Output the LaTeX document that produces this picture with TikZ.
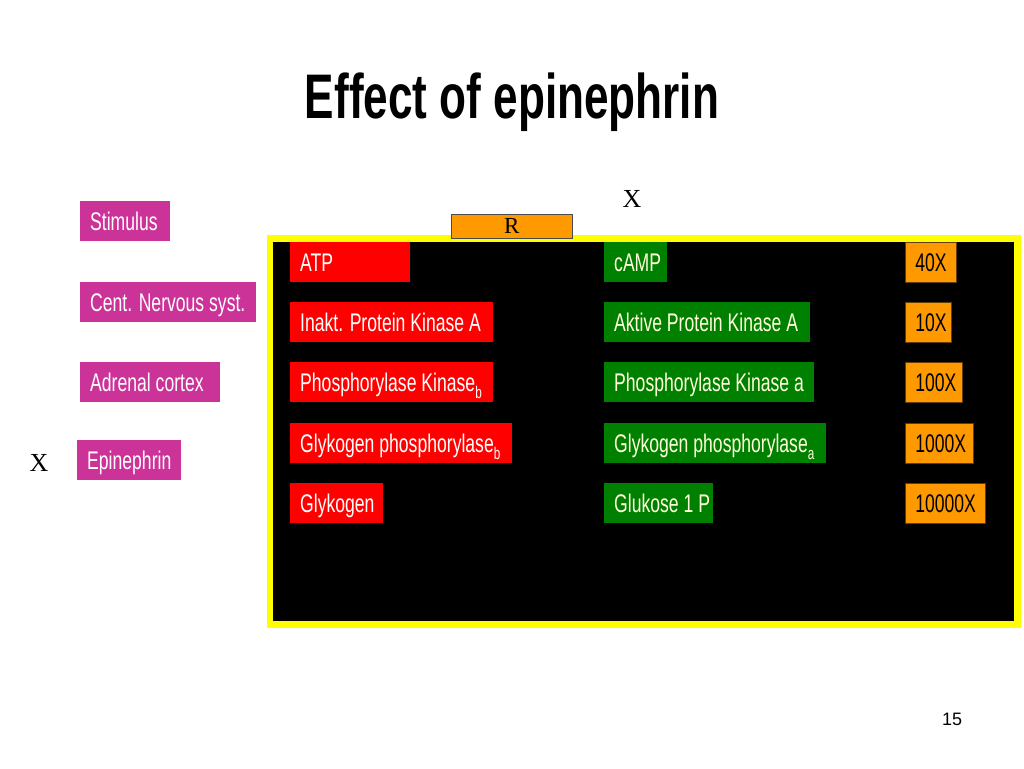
\documentclass[tikz,border=0pt]{standalone}
\usepackage{fontspec}
\setmainfont{Liberation Sans}
\newfontfamily\bodyfont[FakeStretch=0.69]{Liberation Sans}
\newfontfamily\titlefont[FakeStretch=0.7]{Liberation Sans}
\newfontfamily\seriffont{Liberation Serif}
\definecolor{boxred}{RGB}{255,0,0}
\definecolor{boxgreen}{RGB}{0,128,0}
\definecolor{boxorange}{RGB}{255,153,0}
\definecolor{boxmag}{RGB}{204,51,153}
\definecolor{frameyellow}{RGB}{255,255,0}
\definecolor{cream}{RGB}{255,255,220}
\newcommand{\lowsub}[1]{\raisebox{-7pt}{\fontsize{17}{17}\selectfont #1}}
\newcommand{\bt}[1]{\mbox{\spaceskip=0pt\xspaceskip=0pt\relax #1}}
\tikzset{
  box/.style={anchor=west, inner xsep=10pt, inner ysep=0pt, minimum height=40pt,
    text height=18.5pt, text depth=0pt, align=left,
    font=\bodyfont\fontsize{25.5}{26}\selectfont},
  redbox/.style={box, fill=boxred, text=white},
  greenbox/.style={box, fill=boxgreen, text=cream},
  orangebox/.style={box, fill=boxorange, draw=black!60!boxorange, line width=0.6pt, text=black},
  magbox/.style={box, fill=boxmag, text=white},
  serifx/.style={font=\seriffont\fontsize{26}{26}\selectfont, inner sep=0pt},
}
\begin{document}
\begin{tikzpicture}[x=1pt,y=-1pt]
\useasboundingbox (0,0) rectangle (1024,768);
\fill[white] (0,0) rectangle (1024,768);

% title
\node[anchor=base, inner sep=0pt, font=\titlefont\bfseries\fontsize{63}{63}\selectfont] (title) at (512,118) {Effect of epinephrin};

% frame
\draw[frameyellow, line width=6.5pt, fill=black] (270,238.5) rectangle (1017.5,624.5);

% R box
\node[draw=black!70, line width=0.8pt, fill=boxorange, minimum width=121pt, minimum height=24pt, inner sep=0pt,
  font=\seriffont\fontsize{23}{23}\selectfont, anchor=north west] (R) at (451,214) {R};

% X markers
\node[serifx, anchor=base] (x1) at (632,207) {X};
\node[serifx, anchor=base] (x2) at (39,471) {X};

% left stimulus chain
\node[magbox, text width=70pt] (stim) at (80,221) {\bt{Stimulus}};
\node[magbox, text width=156pt] (cns) at (80,302) {\bt{Cent. Nervous syst.}};
\node[magbox, text width=120pt] (adr) at (80,382) {\bt{Adrenal cortex}};
\node[magbox, text width=84pt] (epi) at (77,460) {\bt{Epinephrin}};

% red column
\node[redbox, text width=100pt] (atp) at (290,262) {\bt{ATP}};
\node[redbox, text width=183pt] (ipk) at (290,322) {\bt{Inakt. Protein Kinase A}};
\node[redbox, text width=183pt] (pkb) at (290,382) {\bt{Phosphorylase Kinase\lowsub{b}}};
\node[redbox, text width=202pt] (gpb) at (290,443) {\bt{Glykogen phosphorylase\lowsub{b}}};
\node[redbox, text width=73pt] (glyk) at (290,503) {\bt{Glykogen}};

% green column
\node[greenbox, text width=43pt] (camp) at (604,262) {\bt{cAMP}};
\node[greenbox, text width=186pt] (apk) at (604,322) {\bt{Aktive Protein Kinase A}};
\node[greenbox, text width=190pt] (pka) at (604,382) {\bt{Phosphorylase Kinase a}};
\node[greenbox, text width=202pt] (gpa) at (604,443) {\bt{Glykogen phosphorylase\lowsub{a}}};
\node[greenbox, text width=89pt] (g1p) at (604,503) {\bt{Glukose 1 P}};

% orange column
\node[orangebox, text width=31pt] (f40) at (905,262) {\bt{40X}};
\node[orangebox, text width=26pt] (f10) at (905,322) {\bt{10X}};
\node[orangebox, text width=37pt] (f100) at (905,382) {\bt{100X}};
\node[orangebox, text width=48pt] (f1000) at (905,443) {\bt{1000X}};
\node[orangebox, text width=60pt] (f10000) at (905,503) {\bt{10000X}};

% page number
\node[anchor=base, inner sep=0pt, font=\fontsize{18}{18}\selectfont] (page) at (952,725) {15};
\end{tikzpicture}
\end{document}
